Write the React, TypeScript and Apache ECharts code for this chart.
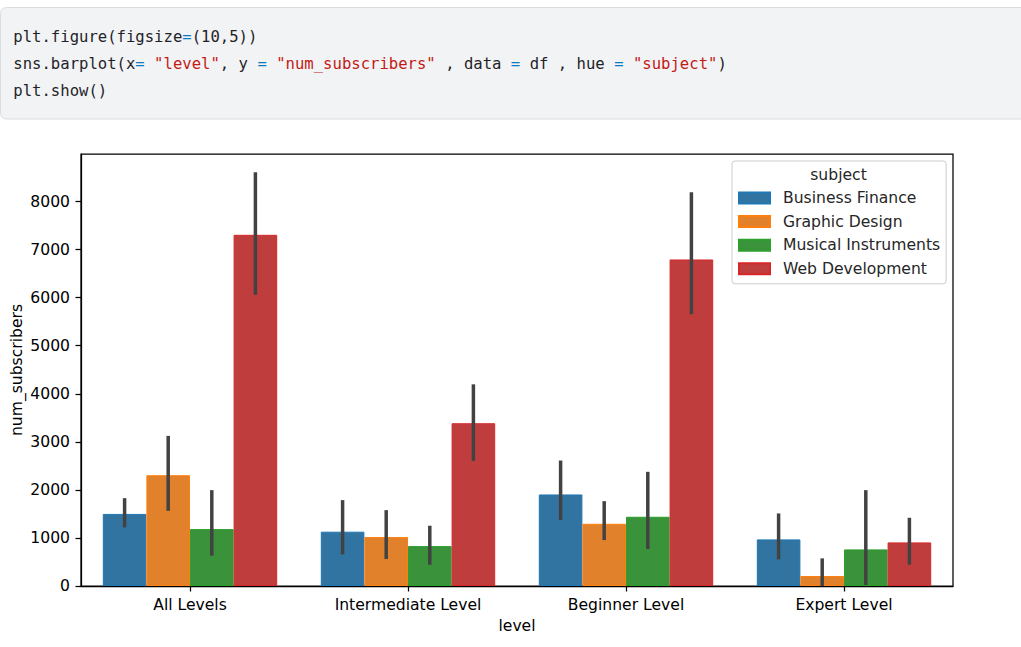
import React, { useEffect, useRef } from "react";
import * as echarts from "echarts";

const levels = ["All Levels", "Intermediate Level", "Beginner Level", "Expert Level"];
const subjects = ["Business Finance", "Graphic Design", "Musical Instruments", "Web Development"];

const businessFinance = [1500, 1130, 1905, 970];
const graphicDesign = [2306, 1018, 1295, 208];
const musicalInstruments = [1184, 831, 1441, 762];
const webDevelopment = [7308, 3387, 6795, 907];

const businessFinanceCI = [[1220, 1828], [658, 1787], [1371, 2611], [554, 1510]];
const graphicDesignCI = [[1565, 3124], [561, 1579], [956, 1766], [0, 575]];
const musicalInstrumentsCI = [[630, 1995], [443, 1254], [769, 2376], [21, 1995]];
const webDevelopmentCI = [[6061, 8610], [2604, 4197], [5658, 8194], [443, 1420]];

const yTicks = [0, 1000, 2000, 3000, 4000, 5000, 6000, 7000, 8000];
const yMax = 8990;

const fillColors = ["#3274a1", "#e1812c", "#3a923a", "#c03d3e"];
const edgeColors = ["#1f77b4", "#ff7f0e", "#2ca02c", "#d62728"];

const codeLines = [
  "plt.figure(figsize{e|=}(10,5))",
  'sns.barplot(x{e|=} {s|"level"}, y {e|=} {s|"num_subscribers"} , data {e|=} df , hue {e|=} {s|"subject"})',
  "plt.show()",
];

export default function App() {
  const ref = useRef<HTMLDivElement>(null);

  useEffect(() => {
    if (!ref.current) return;
    const chart = echarts.init(ref.current, undefined, { renderer: "svg" });
    const values = [businessFinance, graphicDesign, musicalInstruments, webDevelopment];
    const cis = [businessFinanceCI, graphicDesignCI, musicalInstrumentsCI, webDevelopmentCI];
    const font = '"DejaVu Sans", sans-serif';
    const fs = 15.6;

    const barSeries = subjects.map((name, i) => ({
      type: "bar",
      name,
      data: values[i],
      barGap: "0%",
      barCategoryGap: "20%",
      itemStyle: { color: fillColors[i], borderColor: edgeColors[i], borderWidth: 1 },
      emphasis: { disabled: true },
      z: 2,
    }));

    const errSeries = subjects.map((name, i) => ({
      type: "custom",
      name: name + " CI",
      data: cis[i].map((c, k) => [k, c[0], c[1]]),
      encode: { x: 0, y: [1, 2] },
      z: 5,
      silent: true,
      renderItem: (params: any, api: any) => {
        const x = api.value(0);
        const p1 = api.coord([x, api.value(1)]);
        const p2 = api.coord([x, api.value(2)]);
        const bw = api.size([1, 0])[0];
        const off = (i - 1.5) * bw * 0.2;
        return {
          type: "line",
          shape: { x1: p1[0] + off, y1: p1[1], x2: p2[0] + off, y2: p2[1] },
          style: { stroke: "#424242", lineWidth: 3.5, lineCap: "butt" },
        };
      },
    }));

    const graphics: any[] = [
      {
        type: "rect",
        shape: { x: 0.5, y: 7.5, width: 1040, height: 111.5, r: 6 },
        style: { fill: "#f2f3f5", stroke: "#dadce0", lineWidth: 1 },
        z: 0,
      },
      ...codeLines.map((t, k) => ({
        type: "text",
        x: 13.3,
        y: 36.7 + k * 27,
        style: {
          text: t,
          font: '15.6px "DejaVu Sans Mono", monospace',
          fill: "#1f2328",
          textVerticalAlign: "middle",
          rich: {
            e: { fill: "#0b7bc1", font: '15.6px "DejaVu Sans Mono", monospace' },
            s: { fill: "#c41a16", font: '15.6px "DejaVu Sans Mono", monospace' },
          },
        },
        z: 1,
      })),
      {
        type: "text",
        x: 838.5,
        y: 174.5,
        style: {
          text: "subject",
          font: `${fs}px ${font}`,
          fill: "#262626",
          textAlign: "center",
          textVerticalAlign: "middle",
        },
        z: 100,
      },
    ];

    chart.setOption({
      animation: false,
      backgroundColor: "#ffffff",
      textStyle: { fontFamily: font },
      grid: {
        left: 81,
        top: 154,
        right: 68,
        bottom: 61,
        show: true,
        borderColor: "#000000",
        borderWidth: 1.25,
        backgroundColor: "transparent",
        containLabel: false,
        outerBoundsMode: "none",
      },
      legend: {
        orient: "vertical",
        left: 732,
        top: 161,
        padding: [29, 6, 7, 6],
        itemWidth: 31,
        itemHeight: 11,
        itemGap: 7.6,
        icon: "rect",
        data: subjects,
        textStyle: { fontSize: fs, fontFamily: font, color: "#262626", padding: [0, 0, 0, 8] },
        backgroundColor: "rgba(255,255,255,0.8)",
        borderColor: "#cccccc",
        borderWidth: 1,
        borderRadius: 3,
        selectedMode: false,
        z: 20,
      },
      xAxis: {
        type: "category",
        data: levels,
        name: "level",
        nameLocation: "middle",
        nameGap: 32,
        nameMoveOverlap: false,
        nameTextStyle: { fontSize: fs, fontFamily: font, color: "#000" },
        axisLine: { show: true, lineStyle: { color: "#000", width: 1.25 } },
        axisTick: { show: true, alignWithLabel: true, length: 5.5, lineStyle: { color: "#000", width: 1.25 } },
        axisLabel: { fontSize: fs, fontFamily: font, color: "#000", margin: 11 },
        splitLine: { show: false },
      },
      yAxis: {
        type: "value",
        min: 0,
        max: yMax,
        interval: 1000,
        name: "num_subscribers",
        nameLocation: "middle",
        nameGap: 56,
        nameMoveOverlap: false,
        nameTextStyle: { fontSize: fs, fontFamily: font, color: "#000" },
        axisLine: { show: true, lineStyle: { color: "#000", width: 1.25 } },
        axisTick: { show: true, length: 5.5, lineStyle: { color: "#000", width: 1.25 }, customValues: yTicks },
        axisLabel: {
          fontSize: fs,
          fontFamily: font,
          color: "#000",
          margin: 11,
          customValues: yTicks,
          formatter: (v: number) => String(v),
        },
        splitLine: { show: false },
      },
      graphic: graphics,
      series: [...barSeries, ...errSeries],
    });

    return () => {
      chart.dispose();
    };
  }, []);

  return (
    <div
      ref={ref}
      style={{ position: "fixed", left: 0, top: 0, width: 1021, height: 647, background: "#fff" }}
    />
  );
}
